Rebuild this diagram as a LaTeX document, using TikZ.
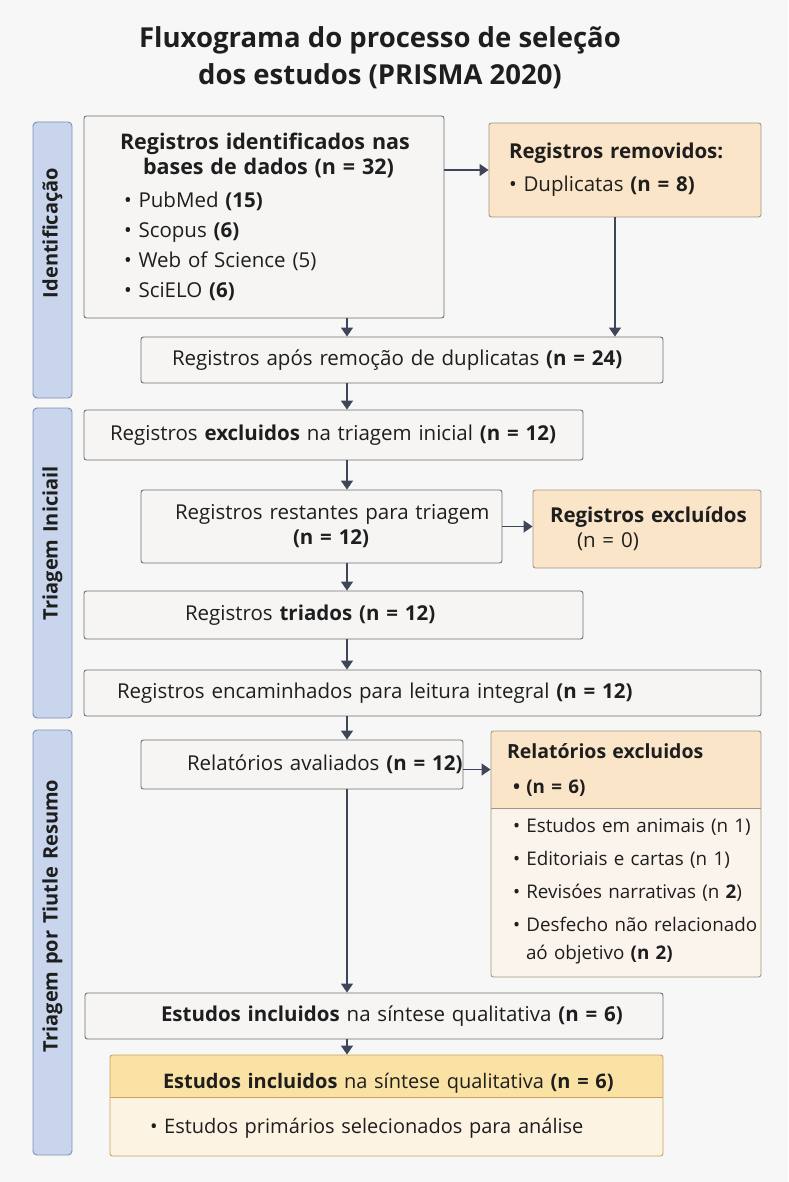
\documentclass[tikz,border=0pt]{standalone}
\usepackage{fontspec}
\setmainfont{Open Sans}
\usepackage{tikz}
\usetikzlibrary{arrows.meta}
\usetikzlibrary{positioning}
\usetikzlibrary{calc}

\definecolor{bgC}{HTML}{F7F7F7}
\definecolor{boxC}{HTML}{F6F5F4}
\definecolor{lineC}{HTML}{707070}
\definecolor{peachC}{HTML}{FBE5C8}
\definecolor{peachLC}{HTML}{FAF4EC}
\definecolor{peachD}{HTML}{A39583}
\definecolor{sideC}{HTML}{C8D5EC}
\definecolor{sideD}{HTML}{7E91B6}
\definecolor{arrowC}{HTML}{3E4657}
\definecolor{goldC}{HTML}{FAE2A4}
\definecolor{goldLC}{HTML}{FDF3E3}
\definecolor{goldD}{HTML}{C9A35E}
\definecolor{txtC}{HTML}{1E1E1E}

\begin{document}
\begin{tikzpicture}[
        x=1pt, y=-1pt,
        defaultS/.style={
            draw=lineC,
            line width=0.9pt,
            rounded corners=2.5pt,
            text=txtC,
            inner xsep=0pt,
            inner ysep=0pt,
            align=left,
            font=\fontsize{20.5}{25}\selectfont
        },
        boxS/.style={
        	defaultS,
        	fill=boxC
        },
        peachS/.style={
        	defaultS,
        	fill=peachC,
        	draw=peachD
        },
        sideS/.style={
            draw=sideD,
            fill=sideC,
            line width=0.9pt,
            rounded corners=4pt,
            rotate=90,
            inner sep=0pt,
            align=left,
            minimum height=39pt,
            text=txtC,
            font=\bfseries\fontsize{20}{22}\selectfont
        },
        arrowS/.style={
            draw=arrowC,
            line width=1.4pt,
            -{Triangle[length=9pt,width=12pt]}
        },
    ]

    \fill[bgC] (0,0) rectangle (788,1182);
    \useasboundingbox (0,0) rectangle (788,1182);

	\node[font=\bfseries\fontsize{27.5}{37}\selectfont, align=center, text=txtC] (title) at (380,58)
	    {Fluxograma do processo de seleção\\dos estudos (PRISMA 2020)};

	\node[sideS, text width=276pt] (side1) at (52.5,260) {\hspace*{100pt}Identificação};
	\node[sideS, text width=310pt] (side2) at (52.5,563) {\hspace*{98pt}Triagem Iniciail};
	\node[sideS, text width=425pt] (side3) at (52.5,942.5) {\hspace*{103pt}Triagem por Tiutle Resumo};

	\node[boxS, text width=360pt, minimum height=202pt] (ident) at (264,217)
	    {\hspace*{36pt}\textbf{\fontsize{21.5}{25}\selectfont Registros identificados nas}\\
	     \hspace*{59pt}\textbf{\fontsize{21.5}{25}\selectfont bases de dados (n = 32)}\\[8pt]
	     \hspace*{40pt}• PubMed \textbf{(15)}\\[5pt]
	     \hspace*{40pt}• Scopus \textbf{(6)}\\[5pt]
	     \hspace*{40pt}• Web of Science (5)\\[5pt]
	     \hspace*{40pt}• SciELO \textbf{(6)}};
	\node[peachS, text width=272pt, minimum height=94pt] (removed) at (625,170)
	    {\hspace*{20pt}\textbf{Registros removidos:}\\[8pt]
	     \hspace*{20pt}• Duplicatas \textbf{(n = 8)}};
	\node[boxS, text width=522pt, minimum height=46pt] (dedup) at (402,360)
	    {\hspace*{31pt}Registros após remoção de duplicatas \textbf{(n = 24)}};
	\node[boxS, text width=499pt, minimum height=50pt] (excl) at (333.5,435)
	    {\hspace*{26pt}Registros \textbf{excluidos} na triagem inicial \textbf{(n = 12)}};
	\node[boxS, text width=361pt, minimum height=73pt] (remain) at (321.5,526.5)
	    {\hspace*{34pt}Registros restantes para triagem\\
	     \hspace*{152pt}\textbf{(n = 12)}};
	\node[peachS, text width=228pt, minimum height=78pt] (excl0) at (647,529)
	    {\hspace*{17pt}\textbf{Registros excluídos}\\
	     \hspace*{44pt}(n = 0)};
	\node[boxS, text width=499pt, minimum height=48pt] (screened) at (333.5,615)
	    {\hspace*{101pt}Registros \textbf{triados (n = 12)}};
	\node[boxS, text width=677pt, minimum height=46pt] (fulltext) at (422.5,693)
	    {\hspace*{33pt}Registros encaminhados para leitura integral \textbf{(n = 12)}};
	\node[boxS, text width=322pt, minimum height=49pt] (reports) at (302,764.5)
	    {\hspace*{46pt}Relatórios avaliados \textbf{(n = 12)}};
	\node[peachS, fill=peachLC, text width=270pt, minimum height=246pt, font=\fontsize{18.8}{33}\selectfont,
	      path picture={\fill[peachC] (path picture bounding box.north west)
	          rectangle ([yshift=-78pt]path picture bounding box.north east);}] (repexcl) at (626,854)
	    {\hspace*{16pt}\textbf{\fontsize{19.5}{33}\selectfont Relatórios excluidos}\\[2pt]
	     \hspace*{22pt}\textbf{• (n = 6)}\\[6pt]
	     \hspace*{22pt}\mbox{• Estudos em animais (n 1)}\\
	     \hspace*{22pt}\mbox{• Editoriais e cartas (n 1)}\\
	     \hspace*{22pt}\mbox{• Revisóes narrativas (n \textbf{2})}\\
	     \hspace*{22pt}\mbox{• Desfecho não relacionado}\\[-5pt]
	     \hspace*{35pt}aó objetivo \textbf{(n 2)}};
	\node[boxS, text width=578pt, minimum height=46pt] (incl) at (374,1016)
	    {\hspace*{76pt}\textbf{Estudos incluidos} na síntese qualitativa \textbf{(n = 6)}};
	\node[defaultS, fill=goldLC, draw=goldD, text width=553pt, minimum height=101pt,
	      font=\fontsize{20}{45}\selectfont,
	      path picture={\fill[goldC] (path picture bounding box.north west)
	          rectangle ([yshift=-43pt]path picture bounding box.north east);}] (final) at (386.5,1105.5)
	    {\hspace*{53pt}\textbf{Estudos incluidos} na síntese qualitativa \textbf{(n = 6)}\\
	     \hspace*{40pt}• Estudos primários selecionados para análise};
	\draw[peachD, line width=0.9pt] ([yshift=-78pt]repexcl.north west) -- ([yshift=-78pt]repexcl.north east);
	\draw[goldD, line width=0.9pt] ([yshift=-43pt]final.north west) -- ([yshift=-43pt]final.north east);

	\coordinate (col) at (347,0);
	\draw[arrowS] (ident.south -| col) -- (dedup.north -| col);
	\draw[arrowS] (ident.east |- removed.west) -- (removed.west);
	\draw[arrowS] ([xshift=-10pt]removed.south) -- ([xshift=-10pt]removed.south |- dedup.north);
	\draw[arrowS] (dedup.south -| col) -- (excl.north -| col);
	\draw[arrowS] (excl.south -| col) -- (remain.north -| col);
	\draw[arrowS] (remain.east) -- (remain.east -| excl0.west);
	\draw[arrowS] (remain.south -| col) -- (screened.north -| col);
	\draw[arrowS] (screened.south -| col) -- (fulltext.north -| col);
	\draw[arrowS] (fulltext.south -| col) -- (reports.north -| col);
	\draw[arrowS] ([yshift=-5pt]reports.east) -- ([yshift=-5pt]reports.east -| repexcl.west);
	\draw[arrowS] (reports.south -| col) -- (incl.north -| col);
	\draw[arrowS] (incl.south -| col) -- (final.north -| col);

\end{tikzpicture}
\end{document}
